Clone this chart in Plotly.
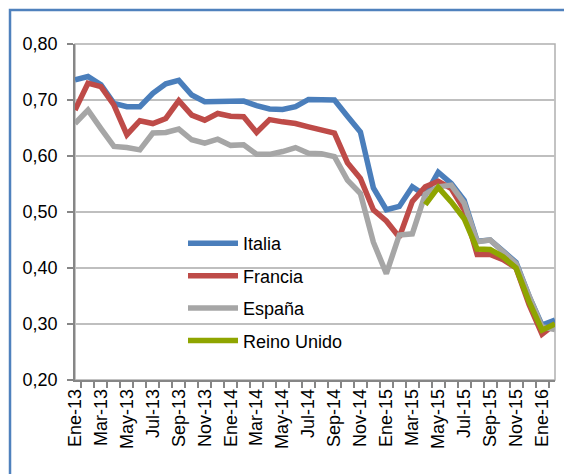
import plotly.graph_objects as go

months = ["Ene", "Feb", "Mar", "Abr", "May", "Jun", "Jul", "Ago", "Sep", "Oct", "Nov", "Dic"]
categories = [f"{m}-{y}" for y in ("13", "14", "15") for m in months] + ["Ene-16", "Feb-16"]
tick_text = [c if i % 2 == 0 else "" for i, c in enumerate(categories)]

italia = [0.736, 0.742, 0.727, 0.694, 0.688, 0.688, 0.712, 0.729, 0.735, 0.709, 0.697, 0.697,
          0.697, 0.698, 0.690, 0.684, 0.683, 0.688, 0.701, 0.700, 0.700, 0.671, 0.643, 0.543,
          0.504, 0.510, 0.545, 0.530, 0.571, 0.551, 0.521, 0.448, 0.450, 0.430, 0.410, 0.350,
          0.298, 0.307]
francia = [0.682, 0.730, 0.724, 0.691, 0.638, 0.663, 0.658, 0.667, 0.699, 0.673, 0.664, 0.676,
           0.671, 0.670, 0.642, 0.665, 0.661, 0.658, 0.652, 0.647, 0.641, 0.588, 0.560, 0.504,
           0.484, 0.455, 0.519, 0.545, 0.555, 0.542, 0.504, 0.424, 0.424, 0.415, 0.400, 0.335,
           0.282, 0.300]
espana = [0.658, 0.682, 0.649, 0.617, 0.615, 0.611, 0.641, 0.642, 0.648, 0.629, 0.623, 0.630,
          0.619, 0.620, 0.603, 0.603, 0.608, 0.615, 0.605, 0.604, 0.599, 0.557, 0.533, 0.446,
          0.390, 0.459, 0.461, 0.532, 0.545, 0.548, 0.516, 0.447, 0.450, 0.430, 0.408, 0.350,
          0.295, 0.290]
reino_unido = [None] * 27 + [0.513, 0.544, 0.518, 0.488, 0.434, 0.433, 0.420, 0.400, 0.340,
                             0.289, 0.300]

series = [
    ("Italia", italia, "#4A7EBB"),
    ("Francia", francia, "#BE4B48"),
    ("España", espana, "#A6A6A6"),
    ("Reino Unido", reino_unido, "#8FA500"),
]

FONT = "Liberation Sans, Arial, sans-serif"

fig = go.Figure()
for i, (name, vals, color) in enumerate(series):
    fig.add_trace(go.Scatter(
        x=categories, y=vals, name=name, mode="lines",
        line=dict(color=color, width=5.5),
        legendgroup=f"g{i}", connectgaps=False,
    ))

fig.update_layout(
    width=564, height=466,
    margin=dict(l=67, r=17, t=36, b=94),
    paper_bgcolor="white", plot_bgcolor="white",
    separators=",.",
    font=dict(family=FONT, size=18, color="#000000"),
    showlegend=True,
    legend=dict(
        x=0.225, y=0.461, xanchor="left", yanchor="top",
        bgcolor="rgba(0,0,0,0)", borderwidth=0,
        font=dict(family=FONT, size=18, color="#000000"),
        itemwidth=50, tracegroupgap=6, traceorder="grouped",
    ),
    xaxis=dict(
        type="category", categoryorder="array", categoryarray=categories,
        tickmode="array", tickvals=categories, ticktext=tick_text,
        tickson="boundaries", ticks="outside", ticklen=6, tickcolor="#868686", tickwidth=1.5,
        tickangle=-90, showgrid=False, showline=True, linecolor="#868686", linewidth=1.5,
        tickfont=dict(family=FONT, size=18, color="#000000"), zeroline=False,
    ),
    yaxis=dict(
        range=[0.2, 0.8], dtick=0.1, tick0=0.2, tickformat=".2f",
        ticks="outside", ticklen=6, tickcolor="#868686", tickwidth=1.5,
        showgrid=True, gridcolor="#BFBFBF", gridwidth=1.5,
        showline=True, linecolor="#868686", linewidth=1.5, zeroline=False,
        tickfont=dict(family=FONT, size=18, color="#000000"),
        ticklabelstandoff=6,
    ),
    shapes=[
        dict(type="rect", xref="paper", yref="paper", x0=0, x1=1, y0=0, y1=1,
             line=dict(color="#B0B0B0", width=1.5), layer="below"),
        dict(type="rect", xref="paper", yref="paper", x0=-0.1354, x1=1.2, y0=-0.5, y1=1.1012,
             line=dict(color="#4F81BD", width=2.5), layer="below"),
    ],
)

fig.write_html("out.html")
